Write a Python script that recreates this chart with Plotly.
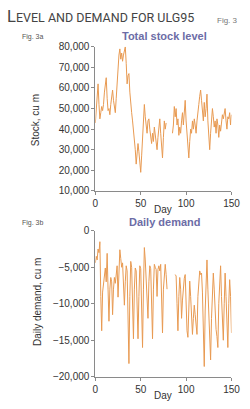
import plotly.graph_objects as go

days = list(range(151))

stock = [
    43000, 48000, 55000, 62000, 52000, 45000, 48000, 51000, 49000, 52000,
    58000, 63000, 65000, 55000, 49000, 50000, 47000, 52000, 55000, 59000,
    54000, 50000, 48000, 55000, 63000, 72000, 76000, 79000, 74000, 77000,
    73000, 76000, 78000, 80000, 72000, 62000, 66000, 67000, 58000, 50000,
    48000, 44000, 40000, 35000, 30000, 23000, 28000, 33000, 29000, 24000,
    19000, 27000, 35000, 44000, 52000, 46000, 42000, 38000, 44000, 45000,
    40000, 36000, 33000, 38000, 34000, 41000, 36000, 32000, 30000, 36000,
    40000, 45000, 38000, 33000, 26000, 36000, 44000, 40000, 43000, None,
    None, None, None, None, None, 38000, 42000, 51000, 46000, 50000,
    42000, 45000, 37000, 41000, 38000, 44000, 48000, 42000, 50000, 54000,
    44000, 36000, 30000, 26000, 34000, 40000, 38000, 44000, 40000, 45000,
    42000, 38000, 44000, 47000, 52000, 56000, 59000, 54000, 48000, 44000,
    53000, 46000, 50000, 57000, 44000, 36000, 30000, 38000, 44000, 50000,
    46000, 41000, 44000, 38000, 45000, 42000, 36000, 42000, 39000, 44000,
    47000, 45000, 48000, 50000, 44000, 40000, 46000, 45000, 48000, 42000,
    47000,
]

demand = [
    -4400, -3500, -4000, -2500, -3000, -1500, -9000, -13700, -8400, -7500,
    -6000, -5100, -7000, -3100, -8000, -12400, -8000, -6400, -7000, -11500,
    -8000, -6400, -7200, -6000, -4800, -9100, -6000, -2600, -3800, -5000,
    -4400, -6500, -10200, -7000, -4800, -5500, -12000, -18200, -9000, -4200,
    -5000, -9000, -14800, -8000, -5100, -5500, -9000, -14800, -9000, -4800,
    -5200, -10000, -16000, -8000, -2300, -4000, -7000, -9000, -12000, -7000,
    -4800, -5200, -9000, -14800, -8000, -4600, -5000, -5300, -9000, -5300,
    -4800, -5500, -4600, -9000, -14000, -8000, -5300, -4600, -6000, -8000,
    None, None, None, None, None, None, None, None, -6000, -6200,
    -10000, -13700, -9000, -6400, -8000, -12000, -9500, -7500, -6500, -6000,
    -10000, -13700, -14600, -10000, -6900, -9000, -12400, -14200, -12000, -10200,
    -11500, -13000, -14200, -9000, -6500, -5500, -6000, -5800, -8400, -13000,
    -18600, -11000, -6000, -4000, -8000, -12000, -14200, -17700, -12000, -8000,
    -5800, -8000, -11500, -13500, -14500, -16000, -10000, -6000, -4800, -9000,
    -12500, -15000, -10000, -5800, -9000, -13000, -16000, -10000, -6700, -9000,
    -14000,
]

x_ticks = [0, 50, 100, 150]
stock_ticks = [10000, 20000, 30000, 40000, 50000, 60000, 70000, 80000]
demand_ticks = [-20000, -15000, -10000, -5000, 0]

W, H = 250, 409
def py(px):
    return 1 - px / H

LINE = "#e89a52"
AX = "#8a8a8a"
TXT = "#333333"
SUB = "#6c6ca6"
FONT = "Liberation Sans, Arial, sans-serif"

fig = go.Figure()
fig.add_trace(go.Scatter(x=days, y=stock, mode="lines", line=dict(color=LINE, width=1),
                         connectgaps=False, xaxis="x", yaxis="y", showlegend=False))
fig.add_trace(go.Scatter(x=days, y=demand, mode="lines", line=dict(color=LINE, width=1),
                         connectgaps=False, xaxis="x2", yaxis="y2", showlegend=False))

xdom = [97 / W, 240 / W]
common_x = dict(range=[0, 150], tickvals=x_ticks, ticks="outside", ticklen=3, tickcolor=AX,
                showline=True, linecolor=AX, linewidth=1, showgrid=False, zeroline=False,
                tickfont=dict(family=FONT, size=10, color=TXT), fixedrange=True)
common_y = dict(ticks="outside", ticklen=3, tickcolor=AX, showline=True, linecolor=AX,
                linewidth=1, showgrid=False, zeroline=False, tickformat=",",
                tickfont=dict(family=FONT, size=10, color=TXT), fixedrange=True)

fig.update_layout(
    width=W, height=H, margin=dict(l=0, r=0, t=0, b=0),
    paper_bgcolor="white", plot_bgcolor="white",
    xaxis=dict(domain=xdom, anchor="y", **common_x),
    yaxis=dict(domain=[py(191), py(43)], range=[10000, 80000], tickvals=stock_ticks,
               anchor="x", **common_y),
    xaxis2=dict(domain=xdom, anchor="y2", **common_x),
    yaxis2=dict(domain=[py(382), py(232)], range=[-20000, 0], tickvals=demand_ticks,
                anchor="x2", **common_y),
)

def note(text, x, y, size, color, family=FONT, xanchor="center", angle=0, yanchor="middle"):
    return dict(text=text, x=x / W, y=py(y), xref="paper", yref="paper",
                xanchor=xanchor, yanchor=yanchor, textangle=angle, showarrow=False,
                font=dict(family=family, size=size, color=color))

ann = [
    note("<span style='font-size:16.5px'>L</span>EVEL AND DEMAND FOR ULG95",
         2, 12, 12.5, "#444444", family="Roboto, sans-serif", xanchor="left"),
    note("Fig. 3", 249, 16, 8, "#777777", xanchor="right"),
    note("Fig. 3a", 18, 33, 7, "#555555", xanchor="left"),
    note("Fig. 3b", 18, 224, 7, "#555555", xanchor="left"),
    note("<b>Total stock level</b>", 170, 32, 11, SUB),
    note("<b>Daily demand</b>", 170, 223, 11, SUB),
    note("Day", 168, 210, 10, TXT),
    note("Day", 168, 401, 10, TXT),
    note("Stock, cu m", 34, 118, 10, TXT, angle=-90),
    note("Daily demand, cu m", 37, 305, 10, TXT, angle=-90),
]
fig.update_layout(annotations=ann)

fig.write_html("out.html")
